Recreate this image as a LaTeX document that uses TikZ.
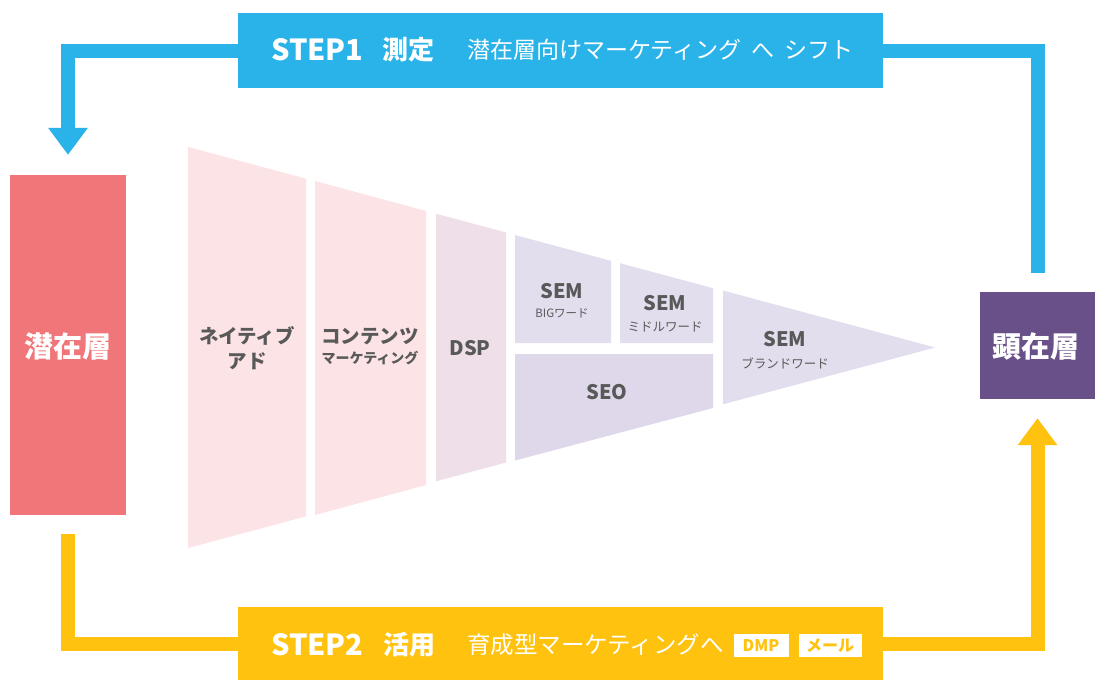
\documentclass[tikz,border=0pt]{standalone}
\usepackage{fontspec}
\newfontfamily\jp{Noto Sans CJK JP}
\usetikzlibrary{arrows.meta}
\definecolor{stepblue}{HTML}{29B3E8}
\definecolor{stepyellow}{HTML}{FFC20E}
\definecolor{senpink}{HTML}{F07679}
\definecolor{kenpurple}{HTML}{6A5089}
\definecolor{lpink}{HTML}{FCE3E6}
\definecolor{ldsp}{HTML}{EEDFE8}
\definecolor{llav}{HTML}{E3DEED}
\definecolor{lseo}{HTML}{DED8EA}
\definecolor{txtgrey}{HTML}{595959}
\newcommand{\fsz}[1]{\fontsize{#1}{#1}\selectfont}
\tikzset{
  flow/.style={line width=14pt, line join=miter},
  arrowtip/.style={-{Triangle[width=38pt,length=27pt]}},
  lbl/.style={inner sep=0pt, text=txtgrey, font=\jp\bfseries},
  wlbl/.style={inner sep=0pt, text=white, font=\jp\bfseries},
  tag/.style={fill=white, text=stepyellow, font=\jp\bfseries\fsz{16}, minimum width=55pt, minimum height=23pt, inner sep=0pt}
}
\begin{document}
\begin{tikzpicture}[x=1pt, y=-1pt]
\useasboundingbox (0,0) rectangle (1095,680);
\fill[white] (0,0) rectangle (1095,680);

% side boxes
\node[fill=senpink, minimum width=116pt, minimum height=340pt, inner sep=0pt] (sen) at (68,345) {};
\node[wlbl, font=\jp\bfseries\fsz{29}] (sent) at (68,346) {潜在層};
\node[fill=kenpurple, minimum width=115pt, minimum height=107pt, inner sep=0pt] (ken) at (1037.5,345.5) {};
\node[wlbl, font=\jp\bfseries\fsz{29}] (kent) at (1036,346) {顕在層};

% step boxes
\node[fill=stepblue, minimum width=645pt, minimum height=75pt, inner sep=0pt] (s1) at (560.5,50.5) {};
\node[fill=stepyellow, minimum width=645pt, minimum height=74pt, inner sep=0pt] (s2) at (560.5,644) {};

% connectors
\draw[flow, stepblue, arrowtip] (s1.west) -| ([yshift=20pt]sen.north);
\draw[flow, stepblue] ([yshift=19pt]ken.north) |- (s1.east);
\draw[flow, stepyellow] ([yshift=-19pt]sen.south) |- (s2.west);
\draw[flow, stepyellow, arrowtip] (s2.east) -| ([yshift=-19pt]ken.south);

% step texts
\node[wlbl, anchor=west, font=\jp\bfseries\fsz{29}] (s1a) at (271,50) {STEP1};
\node[wlbl, anchor=west, font=\jp\bfseries\fsz{26}] (s1c) at (382,50) {測定};
\node[wlbl, anchor=west, font=\jp\fsz{23}] (s1b) at (467,50) {潜在層向けマーケティング\hspace{10pt}へ\hspace{10pt}シフト};
\node[wlbl, anchor=west, font=\jp\bfseries\fsz{29}] (s2a) at (271,645) {STEP2};
\node[wlbl, anchor=west, font=\jp\bfseries\fsz{26}] (s2c) at (383,645) {活用};
\node[wlbl, anchor=west, font=\jp\fsz{23.5}] (s2b) at (467,645) {育成型マーケティングへ};
\node[tag] (dmp) at (761,645.5) {DMP};
\node[tag, minimum width=63pt] (mail) at (830,645.5) {メール};

% funnel pieces
\fill[lpink] (188,147) -- (306,178.7) -- (306,516.4) -- (188,548) -- cycle;
\fill[lpink] (315,181) -- (426,211) -- (426,485) -- (315,515) -- cycle;
\fill[ldsp] (436,213.7) -- (506,232.5) -- (506,462.5) -- (436,481.3) -- cycle;
\fill[llav] (515,235) -- (611,260.8) -- (611,343) -- (515,343) -- cycle;
\fill[llav] (620,263.2) -- (713,288.2) -- (713,343) -- (620,343) -- cycle;
\fill[lseo] (515,354) -- (713,354) -- (713,408) -- (515,460.5) -- cycle;
\fill[llav] (723,290.5) -- (935,347.5) -- (723,404.3) -- cycle;

% funnel labels
\node[lbl, font=\jp\bfseries\fsz{19.5}] (na1) at (247,336) {ネイティブ};
\node[lbl, font=\jp\bfseries\fsz{19.5}] (na2) at (247,361) {アド};
\node[lbl, font=\jp\bfseries\fsz{19.5}] (cm1) at (370,336) {コンテンツ};
\node[lbl, font=\jp\bfseries\fsz{14}] (cm2) at (370,358) {マーケティング};
\node[lbl, font=\jp\bfseries\fsz{20}] (dsp) at (470,348) {DSP};
\node[lbl, font=\jp\bfseries\fsz{20}] (sb1) at (562,291) {SEM};
\node[lbl, font=\jp\fsz{11.5}] (sb2) at (562,313) {BIGワード};
\node[lbl, font=\jp\bfseries\fsz{20}] (sm1) at (665,303) {SEM};
\node[lbl, font=\jp\fsz{12.5}] (sm2) at (665,327) {ミドルワード};
\node[lbl, font=\jp\bfseries\fsz{20}] (seo) at (607,392) {SEO};
\node[lbl, font=\jp\bfseries\fsz{20}] (sr1) at (785,339) {SEM};
\node[lbl, font=\jp\fsz{12.5}] (sr2) at (785,363) {ブランドワード};
\end{tikzpicture}
\end{document}
